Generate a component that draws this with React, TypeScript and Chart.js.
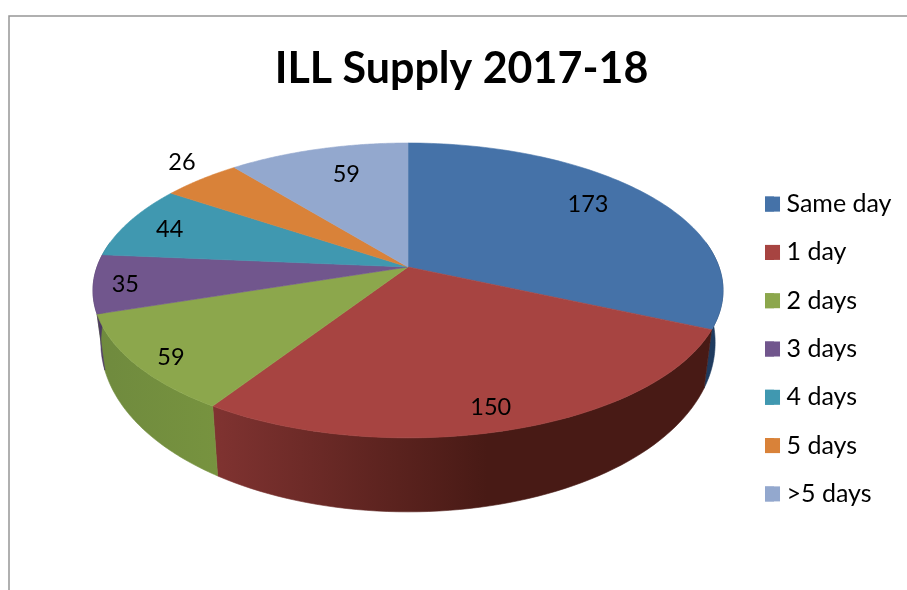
import React, { useEffect, useRef } from "react";
import { Chart, registerables } from "chart.js";

Chart.register(...registerables);

const categories = ["Same day", "1 day", "2 days", "3 days", "4 days", "5 days", ">5 days"];
const values = [173, 150, 59, 35, 44, 26, 59];
const topColors = ["#4572A8", "#A74441", "#8CA74C", "#71568D", "#4098B0", "#D98239", "#93A8CE"];
const rimStart = ["#1F3B5F", "#803331", "#6F8A3E", "#4C3A62", "#2A6878", "#9A5B28", "#64748F"];
const rimEnd = ["#1F3B5F", "#481A15", "#77933F", "#4C3A62", "#2A6878", "#9A5B28", "#64748F"];
const labelRadial = [0.786, 0.874, 0.894, 0.9, 0.849, 1.173, 0.763];
const labelShift = [-4.6, 1.2, -1.5, -0.4, 0, 2.9, 2.6];

const CX = 408, CY = 267, R = 311, RK = 143.7, P = 0.159;
const LOWER_SCALE = 0.975, DEPTH_BASE = 48, DEPTH_FRONT = 26;

const project = (theta: number, f = 1) => {
  const u = Math.sin(theta) * f, v = -Math.cos(theta) * f;
  const w = 1 - P * v;
  return { x: CX + (R * u) / w, y: CY + (RK * v) / w, v };
};
const lower = (theta: number) => {
  const t = project(theta);
  return {
    x: CX + (t.x - CX) * LOWER_SCALE,
    y: t.y + DEPTH_BASE + DEPTH_FRONT * t.v,
  };
};

const pie3d = {
  id: "pie3d",
  beforeDraw(chart: any) {
    const { ctx } = chart;
    ctx.save();
    ctx.strokeStyle = "#969696";
    ctx.lineWidth = 1.5;
    ctx.beginPath();
    ctx.moveTo(9, 590);
    ctx.lineTo(9, 16);
    ctx.lineTo(907, 16);
    ctx.stroke();
    ctx.restore();
  },
  beforeDatasetDraw(chart: any) {
    const { ctx } = chart;
    const arcs = chart.getDatasetMeta(0).data;
    const angle = (a: any) => ({ s: a.startAngle + Math.PI / 2, e: a.endAngle + Math.PI / 2 });
    const rimMin = (80 * Math.PI) / 180, rimMax = (280 * Math.PI) / 180;
    ctx.save();
    arcs.forEach((arc: any, i: number) => {
      const { s, e } = angle(arc);
      const a0 = Math.max(s, rimMin), a1 = Math.min(e, rimMax);
      if (a1 <= a0) return;
      const steps = 60;
      const top: any[] = [], bot: any[] = [];
      for (let k = 0; k <= steps; k++) {
        const t = a0 + ((a1 - a0) * k) / steps;
        top.push(project(t));
        bot.push(lower(t));
      }
      const xs = top.concat(bot).map((p) => p.x);
      const xl = Math.min(...xs), xr = Math.max(...xs);
      const g = ctx.createLinearGradient(xl, 0, xr, 0);
      if (i === 1) {
        g.addColorStop(0, rimStart[i]);
        g.addColorStop(0.55, rimEnd[i]);
        g.addColorStop(1, rimEnd[i]);
      } else {
        g.addColorStop(0, rimStart[i]);
        g.addColorStop(1, rimEnd[i]);
      }
      ctx.fillStyle = g;
      ctx.strokeStyle = g;
      ctx.lineWidth = 0.6;
      ctx.beginPath();
      top.forEach((p, k) => (k ? ctx.lineTo(p.x, p.y) : ctx.moveTo(p.x, p.y)));
      bot.reverse().forEach((p) => ctx.lineTo(p.x, p.y));
      ctx.closePath();
      ctx.fill();
      ctx.stroke();
    });
    arcs.forEach((arc: any, i: number) => {
      const { s, e } = angle(arc);
      const steps = 90;
      ctx.fillStyle = topColors[i];
      ctx.strokeStyle = topColors[i];
      ctx.lineWidth = 0.6;
      ctx.beginPath();
      ctx.moveTo(CX, CY);
      for (let k = 0; k <= steps; k++) {
        const p = project(s + ((e - s) * k) / steps);
        ctx.lineTo(p.x, p.y);
      }
      ctx.closePath();
      ctx.fill();
      ctx.stroke();
    });
    ctx.fillStyle = "#000";
    ctx.font = "23.5px Lato";
    ctx.textAlign = "center";
    ctx.textBaseline = "middle";
    arcs.forEach((arc: any, i: number) => {
      const { s, e } = angle(arc);
      const mid = (s + e) / 2 + (labelShift[i] * Math.PI) / 180;
      const p = project(mid, labelRadial[i]);
      ctx.fillText(String(values[i]), p.x, p.y + 1);
    });
    ctx.restore();
    return false;
  },
  afterDraw(chart: any) {
    const { ctx } = chart;
    const boxes = chart.legend?.legendHitBoxes ?? [];
    ctx.save();
    boxes.forEach((b: any, i: number) => {
      ctx.fillStyle = topColors[i];
      ctx.fillRect(b.left, b.top + (b.height - 15) / 2, 15, 15);
    });
    ctx.restore();
  },
};

export default function App() {
  const ref = useRef<HTMLCanvasElement>(null);
  useEffect(() => {
    const chart = new Chart(ref.current!, {
      type: "pie",
      data: {
        labels: categories,
        datasets: [{ data: values, backgroundColor: topColors, borderWidth: 0 }],
      },
      plugins: [pie3d as any],
      options: {
        animation: false,
        responsive: false,
        layout: { padding: { left: 21.5, right: 5.5, top: 0, bottom: 0 } },
        plugins: {
          tooltip: { enabled: false },
          title: {
            display: true,
            text: "ILL Supply 2017-18",
            color: "#000",
            font: { family: "Lato", size: 43, weight: "bold" },
            padding: { top: 43, bottom: 13.4 },
          },
          legend: {
            display: true,
            position: "right",
            align: "center",
            fullSize: false,
            labels: {
              boxWidth: 9,
              boxHeight: 15,
              padding: 23.3,
              color: "#000",
              font: { family: "Lato", size: 25 },
            },
          },
        },
      } as any,
    });
    return () => chart.destroy();
  }, []);
  return (
    <canvas
      ref={ref}
      width={907}
      height={590}
      style={{ position: "fixed", left: 0, top: 0, width: 907, height: 590, display: "block" }}
    />
  );
}
